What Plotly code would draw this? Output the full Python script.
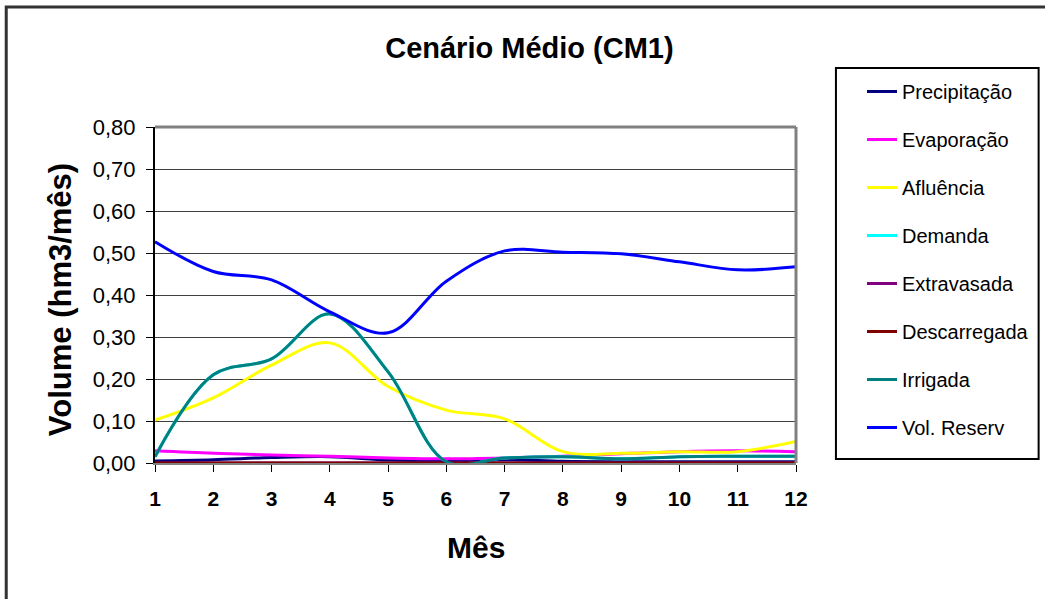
import plotly.graph_objects as go

months = list(range(1, 13))
month_labels = [str(m) for m in months]

precipitacao = [0.005, 0.008, 0.013, 0.015, 0.007, 0.005, 0.008, 0.004, 0.003, 0.003, 0.003, 0.003]
evaporacao = [0.029, 0.023, 0.019, 0.016, 0.012, 0.010, 0.012, 0.016, 0.022, 0.027, 0.029, 0.027]
afluencia = [0.102, 0.155, 0.233, 0.286, 0.182, 0.126, 0.105, 0.027, 0.023, 0.027, 0.027, 0.051]
demanda = [0.015, 0.210, 0.248, 0.355, 0.217, 0.003, 0.012, 0.015, 0.010, 0.015, 0.016, 0.016]
extravasada = [0.0] * 12
descarregada = [0.0] * 12
irrigada = [0.015, 0.210, 0.248, 0.355, 0.217, 0.003, 0.012, 0.015, 0.010, 0.015, 0.016, 0.016]
vol_reserv = [0.527, 0.456, 0.436, 0.360, 0.310, 0.433, 0.505, 0.502, 0.498, 0.479, 0.460, 0.467]

series = [
    ("Precipitação", precipitacao, "#000080"),
    ("Evaporação", evaporacao, "#FF00FF"),
    ("Afluência", afluencia, "#FFFF00"),
    ("Demanda", demanda, "#00FFFF"),
    ("Extravasada", extravasada, "#800080"),
    ("Descarregada", descarregada, "#800000"),
    ("Irrigada", irrigada, "#008080"),
    ("Vol. Reserv", vol_reserv, "#0000FF"),
]

W, H = 1045, 599
L, R, T, B = 155, 797, 127, 463
pw, ph = R - L, B - T


def px(x):
    return (x - L) / pw


def py(y):
    return (B - y) / ph


FONT = "Arial, Liberation Sans, sans-serif"

fig = go.Figure()
for name, vals, color in series:
    fig.add_trace(go.Scatter(
        x=months, y=vals, name=name, mode="lines",
        line=dict(color=color, width=3, shape="spline", smoothing=1.0),
        legendgroup=name,
    ))

fig.update_layout(
    width=W, height=H,
    margin=dict(l=L, r=W - R, t=T, b=H - B, pad=0),
    paper_bgcolor="white", plot_bgcolor="white",
    separators=",.",
    font=dict(family=FONT, color="black", size=20),
    title=dict(text="<b>Cenário Médio (CM1)</b>", font=dict(size=29, family=FONT, color="black"),
               xref="paper", x=px(530), xanchor="center",
               yref="container", y=1 - 48 / H, yanchor="middle"),
    showlegend=True,
    legend=dict(x=px(862), xanchor="left", y=py(72), yanchor="top",
                font=dict(size=20, family=FONT, color="black"),
                traceorder="grouped", tracegroupgap=19, maxheight=560,
                bgcolor="rgba(0,0,0,0)", borderwidth=0),
    xaxis=dict(range=[1, 12], tickvals=months, ticktext=[f"<b>{t}</b>" for t in month_labels],
               showgrid=False, zeroline=False, showline=True, linecolor="#808080", linewidth=2,
               ticks="outside", ticklen=7, tickcolor="black", tickwidth=1,
               tickfont=dict(size=21, family=FONT, color="black"), ticklabelstandoff=9),
    yaxis=dict(range=[0, 0.8], dtick=0.1, tick0=0, tickformat=".2f",
               showgrid=True, gridcolor="#404040", gridwidth=1, zeroline=False,
               showline=True, linecolor="black", linewidth=2,
               ticks="outside", ticklen=7, tickcolor="black", tickwidth=1,
               tickfont=dict(size=22, family=FONT, color="black"), ticklabelstandoff=6),
    shapes=[
        dict(type="rect", xref="paper", yref="paper", x0=px(6), x1=px(1055), y0=py(610), y1=py(7),
             line=dict(color="#333333", width=3), layer="below"),
        dict(type="line", xref="paper", yref="paper", x0=0, x1=1, y0=1, y1=1,
             line=dict(color="#808080", width=3)),
        dict(type="line", xref="paper", yref="paper", x0=1, x1=1, y0=0, y1=1,
             line=dict(color="#808080", width=3)),
        dict(type="rect", xref="paper", yref="paper", x0=px(837), x1=px(1040), y0=py(459), y1=py(68),
             line=dict(color="black", width=2)),
    ],
    annotations=[
        dict(text="<b>Mês</b>", xref="paper", yref="paper", x=px(477), y=py(547),
             xanchor="center", yanchor="middle", showarrow=False,
             font=dict(size=30, family=FONT, color="black")),
        dict(text="<b>Volume (hm3/mês)</b>", xref="paper", yref="paper", x=px(60), y=py(300),
             xanchor="center", yanchor="middle", showarrow=False, textangle=-90,
             font=dict(size=31, family=FONT, color="black")),
    ],
)

fig.write_html(
    "out.html", config={"displayModeBar": False},
    post_script="document.body.style.margin='0';document.body.style.overflow='hidden';"
                "document.documentElement.style.overflow='hidden';")
